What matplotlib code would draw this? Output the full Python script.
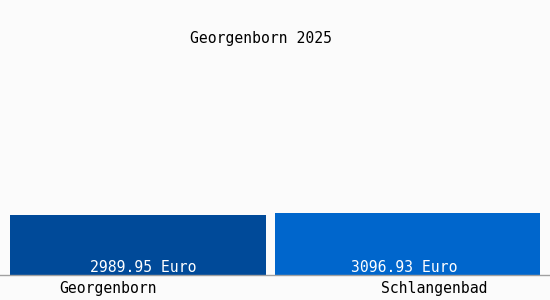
import matplotlib
matplotlib.use("Agg")
import matplotlib.pyplot as plt

title = "Georgenborn 2025"
categories = ["Georgenborn", "Schlangenbad"]
values = [2989.95, 3096.93]
value_labels = ["2989.95 Euro", "3096.93 Euro"]
colors = ["#004a99", "#0066cc"]

W, H = 550, 300
fig = plt.figure(figsize=(W / 100, H / 100), dpi=100, facecolor="#fbfbfb")
# axes region in pixels: x 0..550, y 20..275 (from top)
ax = fig.add_axes([0, (H - 275) / H, 1, 255 / H])
ax.set_facecolor("#fbfbfb")
ax.set_xlim(0, 550)
ymax = values[1] * 255 / 62
ax.set_ylim(0, ymax)

lefts = [10, 275]
widths = [256, 265]
ax.bar(lefts, values, width=widths, align="edge", color=colors, linewidth=0)
font = dict(family="DejaVu Sans Mono", fontsize=10.6)

label_x = [143, 404]
for x, lab in zip(label_x, value_labels):
    ax.text(x, -ymax * 0.5 / 255, lab, color="white", ha="center", va="bottom", **font)

for s in ax.spines.values():
    s.set_visible(False)
ax.set_xticks([])
ax.set_yticks([])
ax.axhline(0, color="#a0a0a0", linewidth=1, clip_on=False)

cat_x = [108, 434]
for x, c in zip(cat_x, categories):
    fig.text(x / W, 1 - 288 / H, c, ha="center", va="center", color="black", **font)

fig.text(261 / W, 1 - 39 / H, title, ha="center", va="center", color="black", **font)

fig.savefig("out.png", dpi=100, facecolor=fig.get_facecolor())
